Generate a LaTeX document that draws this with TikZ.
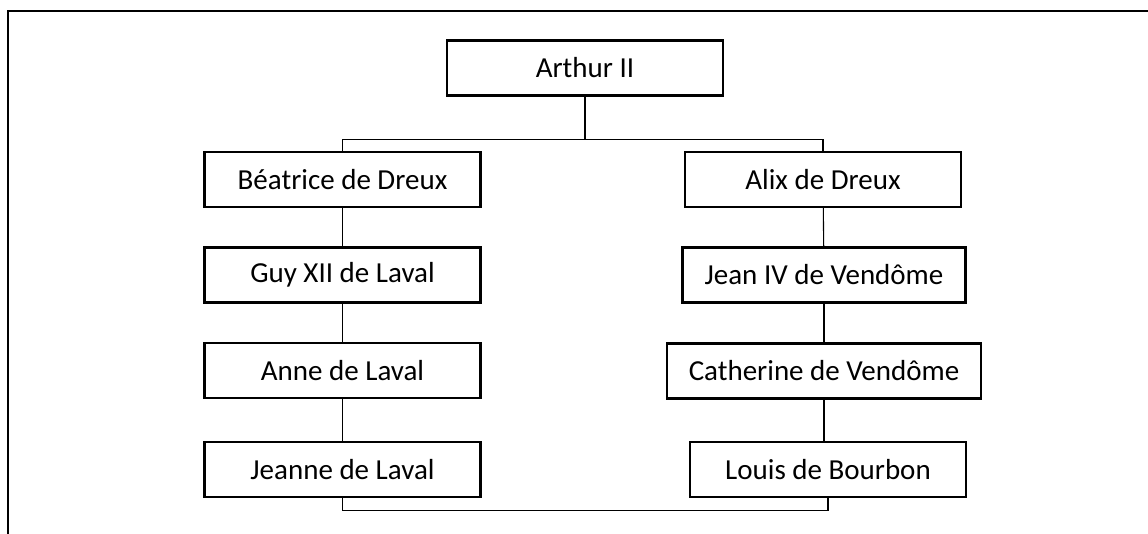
\documentclass[tikz,border=0pt]{standalone}
\usepackage{fontspec}
\setmainfont{Carlito}
\usepackage{tikz}
\usetikzlibrary{positioning, calc}

\tikzset{
  person/.style={draw, line width=2.4pt, minimum width=276pt, minimum height=55pt,
    inner xsep=22pt, font=\fontsize{29}{34}\selectfont},
  link/.style={line width=1.1pt},
}

\begin{document}
\begin{tikzpicture}[x=1pt, y=-1pt]
  \useasboundingbox (0, 0) rectangle (1148, 534);

  % frame: left and top only
  \draw[line width=2pt] (8, 534) -- (8, 11) -- (1148, 11);

  % Arthur II: root
  \node[person] (arthur) at (585, 68) {Arthur II};

  % left line: Dreux -- Laval
  \node[person] (beatrice) at (342.5, 179.5) {Béatrice de Dreux};
  \node[person] (guy) at (342.5, 275) {Guy XII de Laval};
  \node[person] (anne) at (342.5, 370.5) {Anne de Laval};
  \node[person] (jeanne) at (342.5, 469.5) {Jeanne de Laval};

  % right line: Dreux -- Vendome -- Bourbon
  \node[person] (alix) at (823, 179.5) {Alix de Dreux};
  \node[person] (jean) at (824, 275) {Jean IV de Vendôme};
  \node[person] (catherine) at (824, 371) {Catherine de Vendôme};
  \node[person] (louis) at (828, 469.5) {Louis de Bourbon};

  % branches from the root
  \draw[link] (arthur.south) -- ++(0, 43) coordinate (fork) -| (beatrice.north);
  \draw[link] (fork) -| (alix.north);

  % descents
  \draw[link] (beatrice) -- (guy);
  \draw[link] (guy) -- (anne);
  \draw[link] (anne) -- (jeanne);
  \draw[link] (alix) -- (jean);
  \draw[link] (jean) -- (catherine);
  \draw[link] (catherine.south) -- (catherine.south |- louis.north);

  % marriage
  \draw[link] (jeanne.south) -- ++(0, 12) -| (louis.south);
\end{tikzpicture}
\end{document}
